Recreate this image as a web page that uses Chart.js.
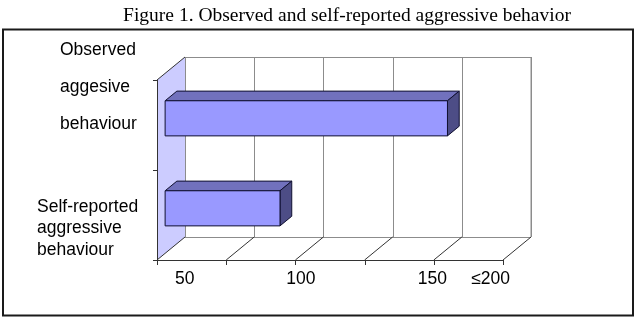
<!DOCTYPE html>
<html lang="en">
<head>
  <meta charset="UTF-8" />
  <title>Observed and self-reported aggressive behavior</title>
  <script src="https://cdn.jsdelivr.net/npm/chart.js"></script>
  <style>
    html, body { margin: 0; padding: 0; background: #fff; }
    #wrap { width: 637px; height: 326px; }
  </style>
</head>
<body>
  <div id="wrap"><canvas id="barChart" width="637" height="326"></canvas></div>

  <script>
    // Data
    const categories = [
      ['Observed', 'aggesive', 'behaviour'],
      ['Self-reported', 'aggressive', 'behaviour']
    ];
    const values = [204, 83];
    const gridTicks = [0, 50, 100, 150, 200, 250];
    const tickLabels = ['50', '100', '150', '≤200'];
    const tickLabelAt = [20, 104, 199, 241];   // axis value under each label

    const titleText = 'Figure 1. Observed and self-reported aggressive behavior';

    // 3D look: depth vector of the box, and where the bars sit inside it
    const DEPTH = { x: 28, y: -23 };
    const BAR_Z = [0.29, 0.71];

    const colors = {
      front: '#9999ff',
      top: '#7171bd',
      side: '#4d4d86',
      edge: '#101030',
      wall: '#ccccff',
      grid: '#8c8c8c',
      axis: '#333333'
    };

    function line(ctx, x1, y1, x2, y2, color, w) {
      ctx.beginPath();
      ctx.moveTo(x1, y1);
      ctx.lineTo(x2, y2);
      ctx.strokeStyle = color;
      ctx.lineWidth = w || 1;
      ctx.stroke();
    }

    function poly(ctx, pts, fill, stroke) {
      ctx.beginPath();
      ctx.moveTo(pts[0][0], pts[0][1]);
      for (let i = 1; i < pts.length; i++) ctx.lineTo(pts[i][0], pts[i][1]);
      ctx.closePath();
      if (fill) { ctx.fillStyle = fill; ctx.fill(); }
      if (stroke) { ctx.strokeStyle = stroke; ctx.lineWidth = 1; ctx.stroke(); }
    }

    const box3d = {
      id: 'box3d',
      beforeDraw(chart) {
        const ctx = chart.ctx;
        const a = chart.chartArea;
        const xs = chart.scales.x;
        const dx = DEPTH.x, dy = DEPTH.y;
        const n = categories.length;
        const band = (a.bottom - a.top) / n;

        ctx.save();
        ctx.fillStyle = '#fff';
        ctx.fillRect(0, 0, chart.width, chart.height);

        // title
        ctx.font = '19.5px "Liberation Serif", "Times New Roman", serif';
        ctx.fillStyle = '#000';
        ctx.textAlign = 'center';
        ctx.textBaseline = 'alphabetic';
        ctx.fillText(titleText, 347, 21);

        // frame
        ctx.strokeStyle = '#1a1a1a';
        ctx.lineWidth = 2;
        ctx.strokeRect(3, 29.5, 630, 286);

        // back wall
        const bl = a.left + dx, br = a.right + dx, bt = a.top + dy, bb = a.bottom + dy;
        poly(ctx, [[bl, bt], [br, bt], [br, bb], [bl, bb]], '#fff', null);
        gridTicks.forEach(t => {
          const x = Math.round(xs.getPixelForValue(t) + dx) + 0.5;
          line(ctx, x, bt, x, bb, colors.grid);
        });
        line(ctx, bl, bt + 0.5, br, bt + 0.5, colors.grid);

        // left side wall
        poly(ctx, [[a.left, a.top], [bl, bt], [bl, bb], [a.left, a.bottom]], colors.wall, null);
        line(ctx, a.left, a.top, bl, bt, colors.axis);
        line(ctx, bl + 0.5, bt, bl + 0.5, bb, colors.grid);

        // floor
        line(ctx, bl, bb + 0.5, br, bb + 0.5, colors.grid);
        gridTicks.forEach(t => {
          const x = xs.getPixelForValue(t);
          line(ctx, x, a.bottom, x + dx, a.bottom + dy, colors.axis);
        });
        line(ctx, br, bt, br, bb, colors.grid);

        // front axes + ticks
        line(ctx, a.left, a.bottom + 0.5, a.right, a.bottom + 0.5, colors.axis);
        gridTicks.forEach(t => {
          const x = Math.round(xs.getPixelForValue(t)) + 0.5;
          line(ctx, x, a.bottom, x, a.bottom + 5, colors.axis);
        });
        line(ctx, a.left + 0.5, a.top, a.left + 0.5, a.bottom, colors.axis);
        for (let i = 0; i <= n; i++) {
          const y = Math.round(a.top + i * band) + 0.5;
          line(ctx, a.left - 4, y, a.left, y, colors.axis);
        }
        ctx.restore();
      },

      afterDatasetsDraw(chart) {
        const ctx = chart.ctx;
        const meta = chart.getDatasetMeta(0);
        const f = { x: DEPTH.x * BAR_Z[0], y: DEPTH.y * BAR_Z[0] };
        const b = { x: DEPTH.x * BAR_Z[1], y: DEPTH.y * BAR_Z[1] };
        ctx.save();
        meta.data.forEach(bar => {
          const p = bar.getProps(['x', 'y', 'base', 'height'], true);
          const x0 = p.base, x1 = p.x;
          const y0 = p.y - p.height / 2, y1 = p.y + p.height / 2;
          // top face
          poly(ctx, [[x0 + f.x, y0 + f.y], [x1 + f.x, y0 + f.y], [x1 + b.x, y0 + b.y], [x0 + b.x, y0 + b.y]], colors.top, colors.edge);
          // right side face
          poly(ctx, [[x1 + f.x, y0 + f.y], [x1 + b.x, y0 + b.y], [x1 + b.x, y1 + b.y], [x1 + f.x, y1 + f.y]], colors.side, colors.edge);
          // front face
          poly(ctx, [[x0 + f.x, y0 + f.y], [x1 + f.x, y0 + f.y], [x1 + f.x, y1 + f.y], [x0 + f.x, y1 + f.y]], colors.front, colors.edge);
        });
        ctx.restore();
      },

      afterDraw(chart) {
        const ctx = chart.ctx;
        const xs = chart.scales.x, ys = chart.scales.y;
        const a = chart.chartArea;
        ctx.save();
        ctx.font = '17.5px "Liberation Sans", Arial, sans-serif';
        ctx.fillStyle = '#000';
        ctx.textBaseline = 'middle';

        // category labels (each has its own line spacing in the original)
        const layout = [
          { x: 60, first: -74.5, gap: 37 },
          { x: 37, first: -8.3, gap: 21.7 }
        ];
        ctx.textAlign = 'left';
        categories.forEach((lines, i) => {
          const cy = ys.getPixelForValue(i);
          lines.forEach((txt, k) => {
            ctx.fillText(txt, layout[i].x, cy + layout[i].first + k * layout[i].gap);
          });
        });

        // value axis labels
        ctx.textAlign = 'center';
        tickLabels.forEach((txt, i) => {
          ctx.fillText(txt, xs.getPixelForValue(tickLabelAt[i]), a.bottom + 19);
        });
        ctx.restore();
      }
    };

    const barChart = new Chart(document.getElementById('barChart'), {
      type: 'bar',
      data: {
        labels: categories,
        datasets: [{
          data: values,
          backgroundColor: 'rgba(0,0,0,0)',
          borderWidth: 0,
          barPercentage: 0.39,
          categoryPercentage: 1
        }]
      },
      options: {
        indexAxis: 'y',
        responsive: false,
        animation: false,
        layout: { padding: { left: 157, right: 134, top: 80, bottom: 66 } },
        scales: {
          x: { type: 'linear', min: 0, max: 250, display: false },
          y: { display: false }
        },
        plugins: {
          legend: { display: false },
          tooltip: { enabled: false },
          title: { display: false }
        }
      },
      plugins: [box3d]
    });
  </script>
</body>
</html>
